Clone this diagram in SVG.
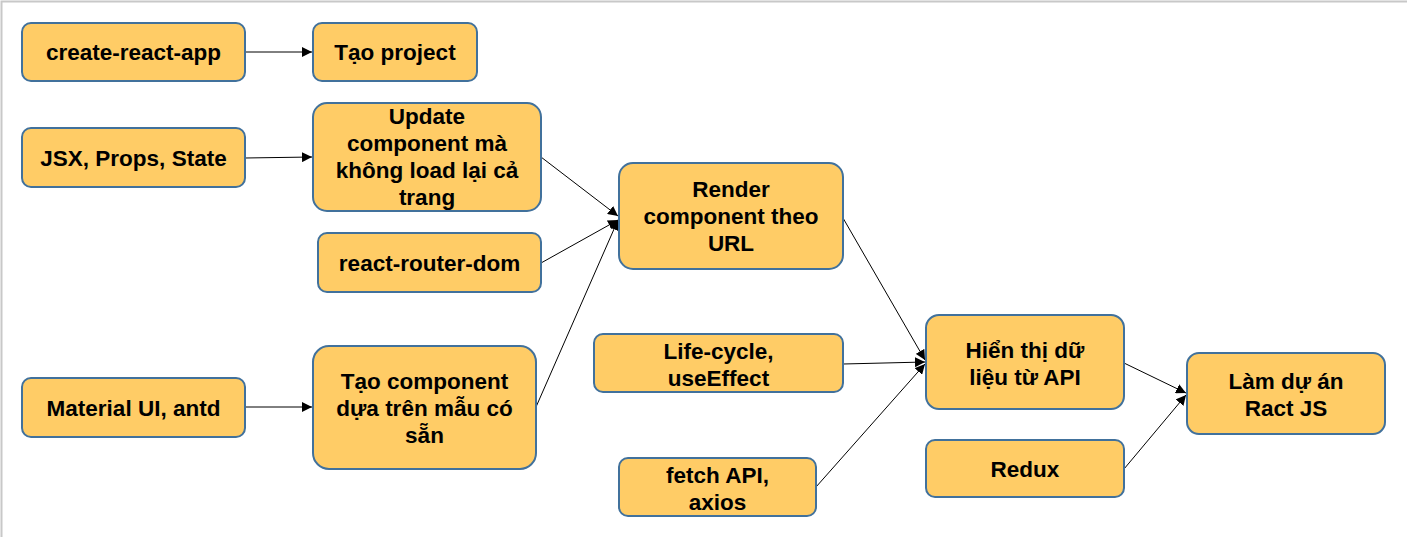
<svg xmlns="http://www.w3.org/2000/svg" width="1407" height="537" viewBox="0 0 1407 537">
<style>
.n{fill:#FFCC66;stroke:#41719C;stroke-width:2}
.t{font-family:"Liberation Sans",Arial,sans-serif;font-weight:bold;font-size:22.5px;fill:#000;text-anchor:middle}
.c{stroke:#000;stroke-width:1;fill:none;marker-end:url(#a)}
</style>
<defs>
<marker id="a" viewBox="0 0 10 10" refX="10" refY="5" markerWidth="10" markerHeight="10" markerUnits="userSpaceOnUse" orient="auto">
<path d="M0,0 L10,5 L0,10 z" fill="#000"/>
</marker>
</defs>
<rect width="1407" height="537" fill="#fff"/>
<path d="M1.5,537 V1.5 H1407" stroke="#c8c8c8" stroke-width="2" fill="none"/>
<g id="connectors">
<line class="c" x1="245" y1="52" x2="312" y2="52"/>
<line class="c" x1="245" y1="158" x2="312" y2="157"/>
<line class="c" x1="245" y1="407" x2="312" y2="407"/>
<line class="c" x1="541" y1="157" x2="618" y2="216"/>
<line class="c" x1="541" y1="263" x2="618" y2="220"/>
<line class="c" x1="536" y1="407" x2="618" y2="220"/>
<line class="c" x1="843" y1="218" x2="925" y2="360"/>
<line class="c" x1="843" y1="364" x2="925" y2="362"/>
<line class="c" x1="816" y1="487" x2="925" y2="364"/>
<line class="c" x1="1124" y1="363" x2="1186" y2="393"/>
<line class="c" x1="1124" y1="469" x2="1186" y2="395"/>
</g>
<g id="n1"><rect class="n" x="22" y="23" width="223" height="58" rx="9"/><text class="t" x="133.5" y="60">create-react-app</text></g>
<g id="n2"><rect class="n" x="313" y="23" width="164" height="58" rx="9"/><text class="t" x="395" y="60">Tạo project</text></g>
<g id="n3"><rect class="n" x="22" y="128" width="223" height="59" rx="9"/><text class="t" x="133.5" y="166">JSX, Props, State</text></g>
<g id="n4"><rect class="n" x="313" y="103" width="228" height="108" rx="14"/><text class="t"><tspan x="427" y="124">Update</tspan><tspan x="427" y="151">component mà</tspan><tspan x="427" y="178">không load lại cả</tspan><tspan x="427" y="205">trang</tspan></text></g>
<g id="n5"><rect class="n" x="318" y="233" width="223" height="59" rx="9"/><text class="t" x="429.5" y="271">react-router-dom</text></g>
<g id="n6"><rect class="n" x="619" y="163" width="224" height="106" rx="14"/><text class="t"><tspan x="731" y="197">Render</tspan><tspan x="731" y="224">component theo</tspan><tspan x="731" y="251">URL</tspan></text></g>
<g id="n7"><rect class="n" x="22" y="378" width="223" height="59" rx="9"/><text class="t" x="133.5" y="416">Material UI, antd</text></g>
<g id="n8"><rect class="n" x="313" y="346" width="223" height="123" rx="16"/><text class="t"><tspan x="424.5" y="389">Tạo component</tspan><tspan x="424.5" y="416">dựa trên mẫu có</tspan><tspan x="424.5" y="443">sẵn</tspan></text></g>
<g id="n9"><rect class="n" x="594" y="334" width="249" height="58" rx="9"/><text class="t"><tspan x="718.5" y="359">Life-cycle,</tspan><tspan x="718.5" y="386">useEffect</tspan></text></g>
<g id="n10"><rect class="n" x="619" y="458" width="197" height="58" rx="9"/><text class="t"><tspan x="717.5" y="483">fetch API,</tspan><tspan x="717.5" y="510">axios</tspan></text></g>
<g id="n11"><rect class="n" x="926" y="315" width="198" height="94" rx="13"/><text class="t"><tspan x="1025" y="358">Hiển thị dữ</tspan><tspan x="1025" y="385">liệu từ API</tspan></text></g>
<g id="n12"><rect class="n" x="1187" y="353" width="198" height="81" rx="12"/><text class="t"><tspan x="1286" y="389">Làm dự án</tspan><tspan x="1286" y="416">Ract JS</tspan></text></g>
<g id="n13"><rect class="n" x="926" y="440" width="198" height="57" rx="9"/><text class="t" x="1025" y="477">Redux</text></g>
</svg>
